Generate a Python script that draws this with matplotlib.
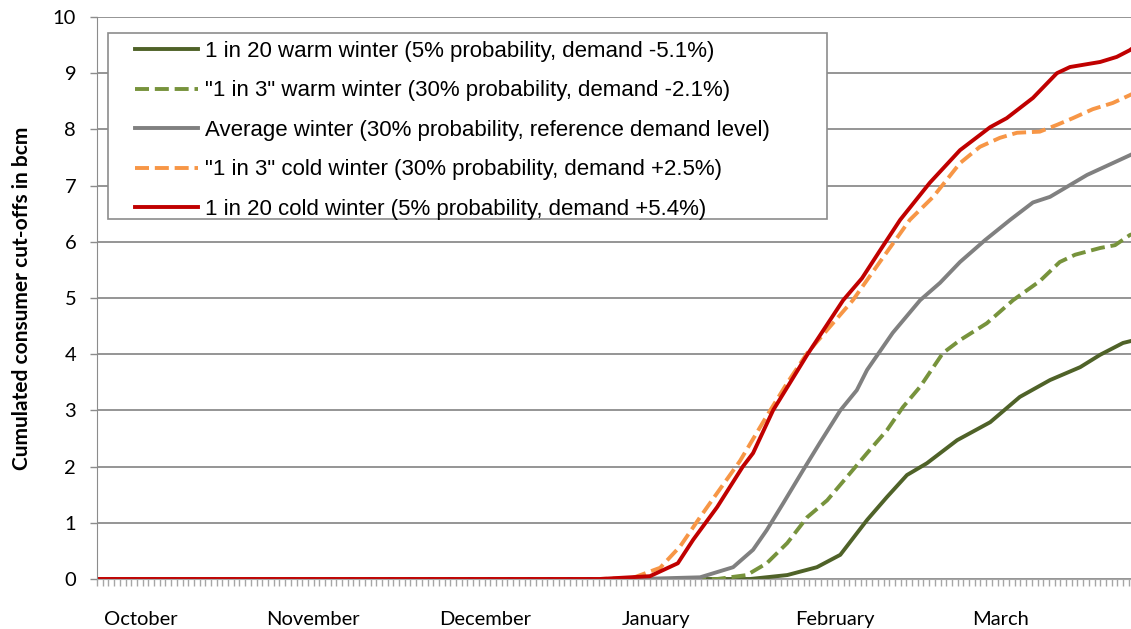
import numpy as np
import matplotlib.pyplot as plt
from matplotlib.patches import Rectangle

# days counted from 1 October
n_days = 182

warm20_x = [0, 114.6, 121.1, 126.3, 130.4, 135.1, 138.6, 142.1, 145.6, 150.9, 156.7, 161.9, 167.2, 172.5, 176.0, 180.0, 182]
warm20_y = [0, 0, 0.07, 0.21, 0.43, 1.05, 1.46, 1.85, 2.06, 2.47, 2.79, 3.24, 3.54, 3.77, 3.99, 4.2, 4.25]

warm3_x = [0, 108.8, 114.0, 117.5, 121.1, 124.6, 128.1, 131.6, 135.1, 138.6, 141.4, 144.4, 148.4, 151.4, 156.1, 160.7, 165.4, 168.9, 171.6, 176.0, 178.6, 181.2, 182]
warm3_y = [0, 0, 0.07, 0.28, 0.64, 1.1, 1.4, 1.82, 2.24, 2.65, 3.06, 3.42, 4.02, 4.25, 4.55, 4.96, 5.3, 5.64, 5.77, 5.89, 5.94, 6.12, 6.15]

avg_x = [0, 95.0, 105.8, 111.6, 115.1, 117.5, 120.4, 123.9, 126.8, 130.4, 133.3, 135.1, 139.6, 144.4, 147.9, 151.4, 155.8, 160.2, 164.2, 167.2, 173.7, 181.2, 182]
avg_y = [0, 0, 0.03, 0.21, 0.52, 0.87, 1.35, 1.94, 2.42, 3.0, 3.36, 3.72, 4.38, 4.96, 5.27, 5.64, 6.03, 6.39, 6.7, 6.8, 7.19, 7.54, 7.58]

cold3_x = [0, 88.0, 94.0, 98.8, 102.3, 105.8, 108.8, 112.8, 117.5, 121.1, 124.6, 129.1, 132.6, 137.4, 142.6, 146.7, 151.4, 154.9, 158.4, 161.4, 165.4, 168.4, 171.2, 174.7, 178.2, 181.2, 182]
cold3_y = [0, 0, 0.02, 0.2, 0.58, 1.1, 1.53, 2.1, 2.9, 3.49, 4.02, 4.55, 4.96, 5.65, 6.39, 6.8, 7.4, 7.69, 7.85, 7.94, 7.96, 8.08, 8.2, 8.36, 8.47, 8.61, 8.65]

cold20_x = [0, 88.2, 97.0, 101.9, 104.6, 108.8, 113.3, 115.1, 118.6, 124.6, 130.9, 134.2, 137.4, 140.9, 146.1, 151.4, 156.7, 159.6, 164.2, 168.4, 170.7, 176.0, 178.9, 181.2, 182]
cold20_y = [0, 0, 0.05, 0.28, 0.7, 1.28, 2.0, 2.24, 3.0, 3.99, 4.96, 5.35, 5.85, 6.39, 7.05, 7.63, 8.04, 8.2, 8.56, 9.0, 9.11, 9.2, 9.29, 9.41, 9.47]

months = ['October', 'November', 'December', 'January', 'February', 'March']
month_label_pos = [7.7, 37.9, 68.1, 98.1, 129.5, 158.6]

labels = ['1 in 20 warm winter (5% probability, demand -5.1%)',
          '"1 in 3" warm winter (30% probability, demand -2.1%)',
          'Average winter (30% probability, reference demand level)',
          '"1 in 3" cold winter (30% probability, demand +2.5%)',
          '1 in 20 cold winter (5% probability, demand +5.4%)']

plt.rcParams['font.family'] = ['Lato', 'DejaVu Sans']

fig = plt.figure(figsize=(11.31, 6.29), dpi=100)
ax = fig.add_axes([97/1131, 1 - 579/629, 1037.4/1131, 562/629])

lw = 2.8
dash = (0, (3.6, 1.5))
ax.plot(warm20_x, warm20_y, color='#4F6228', lw=lw, label=labels[0])
ax.plot(warm3_x, warm3_y, color='#77933C', lw=lw, ls=dash, label=labels[1])
ax.plot(avg_x, avg_y, color='#808080', lw=lw, label=labels[2])
ax.plot(cold3_x, cold3_y, color='#F79646', lw=lw, ls=dash, label=labels[3])
ax.plot(cold20_x, cold20_y, color='#C00000', lw=lw, label=labels[4])

ax.set_xlim(0, n_days)
ax.set_ylim(0, 10)
ax.set_yticks(np.arange(0, 11, 1))
ax.yaxis.grid(True, color='#8C8C8C', lw=1.3)
ax.set_axisbelow(True)

ax.set_xticks(month_label_pos)
ax.set_xticklabels(months)
ax.set_xticks(np.arange(0, n_days + 1, 1), minor=True)
ax.tick_params(axis='x', which='major', length=0, pad=23, labelsize=14.5)
ax.tick_params(axis='x', which='minor', length=5, width=1, color='#A6A6A6')
ax.tick_params(axis='y', length=5, width=1, color='#8C8C8C', labelsize=14.5, pad=10)

for s in ['top', 'right']:
    ax.spines[s].set_visible(False)
ax.spines['left'].set_color('#8C8C8C')
ax.spines['bottom'].set_color('#A6A6A6')

ax.set_ylabel('Cumulated consumer cut-offs in bcm', fontsize=15, fontweight='bold')
ax.yaxis.set_label_coords(-0.063, 0.5)

# legend frame drawn separately so that side and top padding can differ
ax.add_patch(Rectangle((11/1037.4, (579-219)/562), (827-108)/1037.4, (219-33)/562,
                       transform=ax.transAxes, facecolor='white', edgecolor='#8C8C8C',
                       lw=1.2, zorder=4))
leg = ax.legend(loc='upper left', bbox_to_anchor=(38/1037.4, (579-41)/562),
                prop={'family': 'Liberation Sans', 'size': 16},
                handlelength=2.84, handletextpad=0.32, labelspacing=0.83,
                frameon=False, borderpad=0, borderaxespad=0)
leg.set_zorder(5)

fig.savefig('out.png', dpi=100)
